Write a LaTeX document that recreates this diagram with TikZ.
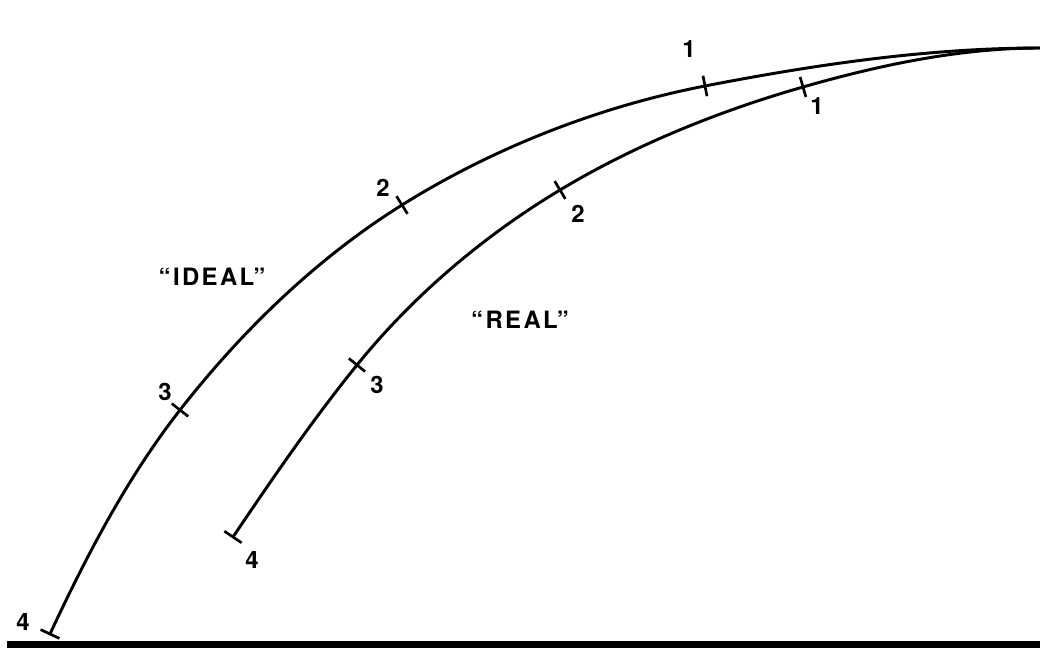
\documentclass[tikz,border=0pt]{standalone}
\usepackage{fontspec}
\setmainfont{TeX Gyre Heros}
\newfontfamily\spacedfont[LetterSpace=10]{TeX Gyre Heros}
\usetikzlibrary{positioning}
\tikzset{
    curve/.style={line width=2.1pt, black, looseness=0.85},
    tick/.style={draw, line width=1.9pt, minimum width=0pt, minimum height=0.52cm, inner sep=0pt, outer sep=0pt},
    num/.style={font=\bfseries\fontsize{17}{19}\selectfont, inner sep=0pt},
    ground/.style={line width=4.5pt, black}
}

\begin{document}
\begin{tikzpicture}[
    curvelabel/.style={font=\spacedfont\bfseries\fontsize{17}{19}\selectfont, inner sep=0pt}
]
    \useasboundingbox (0,0) rectangle (26,16.25);

    % 1. DIEM CHUNG VA CAC MOC
    \coordinate (top) at (26,15.05);
    \coordinate (i1) at (17.625,14.1);
    \coordinate (i2) at (10.05,11.125);
    \coordinate (i3) at (4.5,6.0);
    \coordinate (i4) at (1.25,0.4);
    \coordinate (r1) at (20.075,14.075);
    \coordinate (r2) at (14.0,11.5);
    \coordinate (r3) at (8.925,7.125);
    \coordinate (r4) at (5.825,2.825);

    % 2. DUONG NEN
    \coordinate (gl) at (0.18,0.1375);
    \coordinate (gr) at (26,0.1375);
    \draw[ground] (gl) -- (gr);

    % 3. DUONG "IDEAL"
    \draw[curve] (top) to[out=180,in=11] (i1) to[out=191,in=32] (i2)
        to[out=212,in=52] (i3) to[out=232,in=65] (i4);
    \node[tick, rotate=11] at (i1) {};
    \node[tick, rotate=32] at (i2) {};
    \node[tick, rotate=52] at (i3) {};
    \node[tick, rotate=65] at (i4) {};

    % 4. DUONG "REAL"
    \draw[curve] (top) to[out=180,in=16] (r1) to[out=196,in=31] (r2)
        to[out=211,in=51] (r3) to[out=231,in=56] (r4);
    \node[tick, rotate=16] at (r1) {};
    \node[tick, rotate=31] at (r2) {};
    \node[tick, rotate=51] at (r3) {};
    \node[tick, rotate=56] at (r4) {};

    % 5. NHAN SO
    \node[num] (li1) at (17.225,15.025) {1};
    \node[num] (li2) at (9.575,11.55) {2};
    \node[num] (li3) at (4.125,6.45) {3};
    \node[num] (li4) at (0.575,0.7) {4};
    \node[num] (lr1) at (20.425,13.6) {1};
    \node[num] (lr2) at (14.45,10.9) {2};
    \node[num] (lr3) at (9.425,6.625) {3};
    \node[num] (lr4) at (6.3,2.25) {4};

    % 6. TEN DUONG
    \node[curvelabel] (ideal) at (5.3,9.325) {“IDEAL”};
    \node[curvelabel] (real) at (13.0,8.25) {“REAL”};

\end{tikzpicture}
\end{document}
